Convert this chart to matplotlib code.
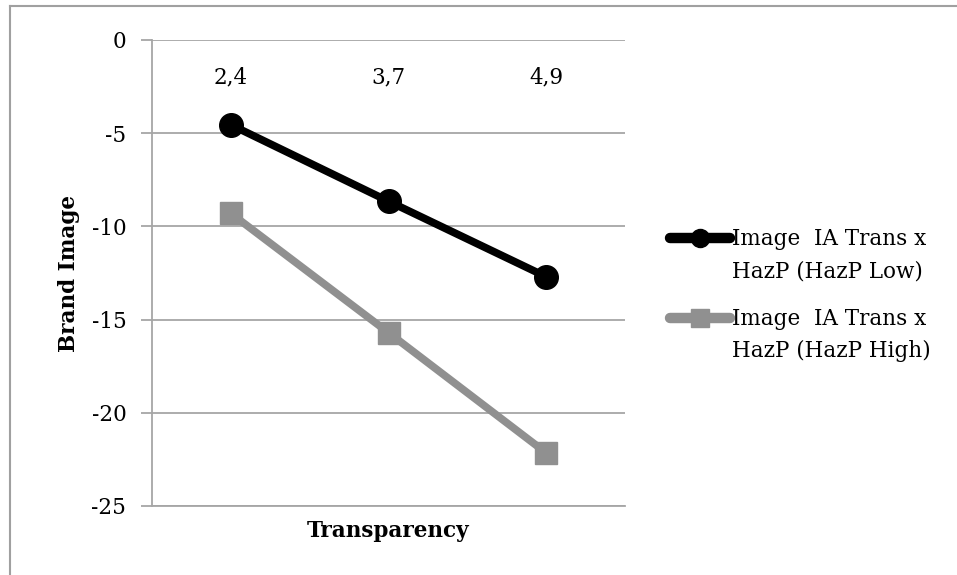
import matplotlib.pyplot as plt
from matplotlib.lines import Line2D

# data
categories = ['2,4', '3,7', '4,9']
haz_low = [-4.55, -8.65, -12.7]
haz_high = [-9.3, -15.7, -22.15]
series_names = [['Image  IA Trans x', 'HazP (HazP Low)'],
                ['Image  IA Trans x', 'HazP (HazP High)']]
y_ticks = [0, -5, -10, -15, -20, -25]

plt.rcParams['font.family'] = 'DejaVu Serif'

W, H = 957, 575
fig = plt.figure(figsize=(W / 100, H / 100), dpi=100)
ax = fig.add_axes([152 / W, 1 - 506 / H, (625 - 152) / W, (506 - 40) / H])

grid_col = '#a6a6a6'
colors = ['black', '#909090']
markers = ['o', 's']
sizes = [17, 16]
x = range(len(categories))
for vals, c, m, s in zip([haz_low, haz_high], colors, markers, sizes):
    ax.plot(x, vals, color=c, lw=5.5, marker=m, ms=s)

ax.set_xlim(-0.5, 2.5)
ax.set_ylim(-25, 0)
ax.set_yticks(y_ticks)
ax.set_yticklabels([str(v) for v in y_ticks], fontsize=15.5)
ax.yaxis.grid(True, color=grid_col, lw=1.3)
ax.set_axisbelow(True)

ax.set_xticks(list(x))
ax.set_xticklabels(categories, fontsize=15.5)
ax.tick_params(axis='x', top=True, bottom=False, labeltop=True, labelbottom=False,
               length=0, pad=-35)
ax.tick_params(axis='y', length=8, width=1.3, color=grid_col, pad=10.5)

for s in ['top', 'right']:
    ax.spines[s].set_visible(False)
for s in ['left', 'bottom']:
    ax.spines[s].set_color(grid_col)
    ax.spines[s].set_linewidth(1.3)

ax.xaxis.set_label_position('bottom')
ax.set_xlabel('Transparency', fontsize=15.5, fontweight='bold')
ax.xaxis.set_label_coords(0.5, -0.03, transform=ax.transAxes)
ax.xaxis.label.set_va('top')
ax.set_ylabel('Brand Image', fontsize=15.5, fontweight='bold')
ax.yaxis.set_label_coords(-0.153, 0.5)

# legend drawn by hand: handle sits next to the first line of each entry (Excel style)
for i, (names, c, m) in enumerate(zip(series_names, colors, markers)):
    yh = 1 - (238 + 80 * i) / H
    fig.add_artist(Line2D([670 / W, 730 / W], [yh, yh], color=c, lw=7.5,
                          solid_capstyle='round'))
    fig.add_artist(Line2D([700 / W], [yh], color=c, marker=m, ms=13, lw=0))
    for j, line in enumerate(names):
        fig.text(732 / W, 1 - (245 + 80 * i + 32 * j) / H, line, fontsize=15.5,
                 va='baseline', ha='left')

# outer chart border (only top and left visible)
fig.add_artist(Line2D([10 / W, 10 / W], [0, 1 - 6 / H], color='#a0a0a0', lw=1.5))
fig.add_artist(Line2D([10 / W, 1], [1 - 6 / H, 1 - 6 / H], color='#a0a0a0', lw=1.5))

fig.savefig('out.png', dpi=100)
